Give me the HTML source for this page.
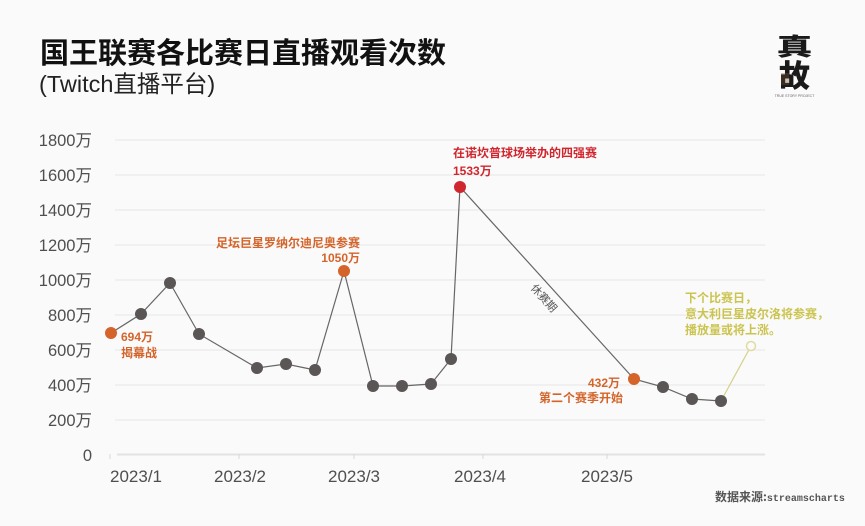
<!DOCTYPE html>
<html><head><meta charset="utf-8">
<style>
html,body{margin:0;padding:0;background:#fafafa;}
svg{display:block;}
.cjk{font-family:"Liberation Sans","Noto Sans CJK SC",sans-serif;}
</style></head>
<body>
<svg width="865" height="526" viewBox="0 0 865 526" xmlns="http://www.w3.org/2000/svg" class="cjk">
<rect width="865" height="526" fill="#fafafa"/>
<!-- title -->
<text x="40" y="63" font-size="29" font-weight="700" fill="#111" font-family="'Noto Sans CJK SC',sans-serif">国王联赛各比赛日直播观看次数</text>
<text x="39" y="92" font-size="23.5" fill="#222" font-family="'Liberation Sans','Noto Sans CJK SC',sans-serif">(Twitch直播平台)</text>
<!-- logo -->
<g font-family="'Noto Sans CJK SC',sans-serif" font-weight="900" fill="#1a1a1a">
<text x="794.5" y="0" font-size="36" text-anchor="middle" transform="translate(0,55) scale(1,0.66)">真</text>
<text x="794.5" y="87" font-size="31" text-anchor="middle">故</text>
</g>
<rect x="781" y="73" width="8" height="12" fill="#7a5530" opacity="0.35"/>
<text x="794.5" y="97" font-size="3.5" text-anchor="middle" fill="#666" font-family="'Liberation Sans',sans-serif">TRUE STORY PROJECT</text>
<!-- grid -->
<g stroke="#ececec" stroke-width="1.5">
<line x1="115" y1="140" x2="765" y2="140"/>
<line x1="115" y1="175" x2="765" y2="175"/>
<line x1="115" y1="210" x2="765" y2="210"/>
<line x1="115" y1="245" x2="765" y2="245"/>
<line x1="115" y1="280" x2="765" y2="280"/>
<line x1="115" y1="315" x2="765" y2="315"/>
<line x1="115" y1="350" x2="765" y2="350"/>
<line x1="115" y1="385" x2="765" y2="385"/>
<line x1="115" y1="420" x2="765" y2="420"/>
</g>
<line x1="117" y1="454.5" x2="765" y2="454.5" stroke="#e3e3e3" stroke-width="2"/>
<g stroke="#d8d8d8" stroke-width="1">
<line x1="110" y1="454" x2="110" y2="459"/>
<line x1="239" y1="454" x2="239" y2="459"/>
<line x1="354" y1="454" x2="354" y2="459"/>
<line x1="483" y1="454" x2="483" y2="459"/>
<line x1="607" y1="454" x2="607" y2="459"/>
</g>
<!-- y labels -->
<g font-size="16.5" fill="#4f4f4f" text-anchor="end" font-family="'Liberation Sans','Noto Sans CJK SC',sans-serif">
<text x="92" y="146">1800万</text>
<text x="92" y="181">1600万</text>
<text x="92" y="216">1400万</text>
<text x="92" y="251">1200万</text>
<text x="92" y="286">1000万</text>
<text x="92" y="321">800万</text>
<text x="92" y="356">600万</text>
<text x="92" y="391">400万</text>
<text x="92" y="426">200万</text>
<text x="92" y="461">0</text>
</g>
<!-- x labels -->
<g font-size="17" fill="#4f4f4f" font-family="'Liberation Sans',sans-serif">
<text x="110" y="482">2023/1</text>
<text x="240" y="482" text-anchor="middle">2023/2</text>
<text x="354" y="482" text-anchor="middle">2023/3</text>
<text x="480" y="482" text-anchor="middle">2023/4</text>
<text x="607" y="482" text-anchor="middle">2023/5</text>
</g>
<!-- series line -->
<polyline fill="none" stroke="#666" stroke-width="1.2" points="111,333 141,314 170,283 199,334 257,368 286,364 315,370 344,271 373,386 402,386 431,384 451,359 460,187 634,379 663,387 692,399 721,401"/>
<line x1="721" y1="401" x2="751" y2="346" stroke="#d6d08a" stroke-width="1.2"/>
<!-- markers -->
<g fill="#5b5656">
<circle cx="141" cy="314" r="6"/>
<circle cx="170" cy="283" r="6"/>
<circle cx="199" cy="334" r="6"/>
<circle cx="257" cy="368" r="6"/>
<circle cx="286" cy="364" r="6"/>
<circle cx="315" cy="370" r="6"/>
<circle cx="373" cy="386" r="6"/>
<circle cx="402" cy="386" r="6"/>
<circle cx="431" cy="384" r="6"/>
<circle cx="451" cy="359" r="6"/>
<circle cx="663" cy="387" r="6"/>
<circle cx="692" cy="399" r="6"/>
<circle cx="721" cy="401" r="6"/>
</g>
<circle cx="111" cy="333" r="6" fill="#d4642a"/>
<circle cx="344" cy="271" r="6" fill="#d4642a"/>
<circle cx="634" cy="379" r="6" fill="#d4642a"/>
<circle cx="460" cy="187" r="6" fill="#d0262e"/>
<circle cx="751" cy="346" r="4.5" fill="#fafafa" stroke="#e0dca0" stroke-width="1.5"/>
<!-- annotations -->
<g font-size="12" font-weight="700" font-family="'Liberation Sans','Noto Sans CJK SC',sans-serif">
<text x="121" y="341" fill="#d4642a">694万</text>
<text x="121" y="357" fill="#d4642a">揭幕战</text>
<text x="360" y="247" fill="#d4642a" text-anchor="end">足坛巨星罗纳尔迪尼奥参赛</text>
<text x="360" y="262" fill="#d4642a" text-anchor="end">1050万</text>
<text x="453" y="157" fill="#d0262e">在诺坎普球场举办的四强赛</text>
<text x="453" y="175" fill="#d0262e">1533万</text>
<text x="620" y="387" fill="#d4642a" text-anchor="end">432万</text>
<text x="623" y="402" fill="#d4642a" text-anchor="end">第二个赛季开始</text>
<text x="685" y="302" fill="#cbc450">下个比赛日，</text>
<text x="685" y="318" fill="#cbc450">意大利巨星皮尔洛将参赛，</text>
<text x="685" y="334" fill="#cbc450">播放量或将上涨。</text>
</g>
<text x="544" y="302" font-size="11" fill="#555" text-anchor="middle" transform="rotate(48 544 298)">休赛期</text>
<!-- source -->
<text x="715" y="501" font-size="12" font-weight="700" fill="#555"><tspan font-family="'Noto Sans CJK SC',sans-serif">数据来源:</tspan><tspan font-family="'Liberation Mono',monospace" font-size="10">streamscharts</tspan></text>
</svg>
</body></html>
